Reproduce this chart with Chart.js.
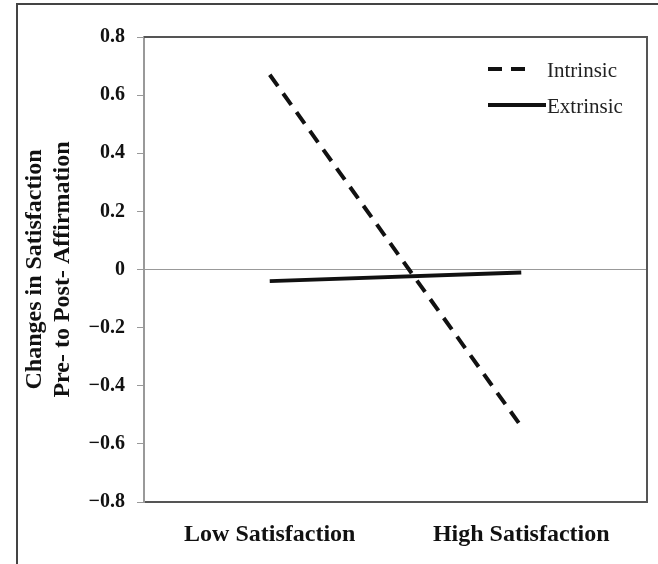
<!DOCTYPE html>
<html>
<head>
<meta charset="utf-8">
<title>Changes in Satisfaction</title>
<script src="https://cdn.jsdelivr.net/npm/chart.js@4.4.1/dist/chart.umd.min.js"></script>
<style>
  body { margin: 0; background: #fff; }
  .wrapper { position: relative; width: 658px; height: 564px; }
  .frame {
    position: absolute; left: 16px; top: 3px; right: 0; bottom: 0;
    border-left: 2px solid #444; border-top: 2px solid #444;
  }
  canvas { position: absolute; left: 0; top: 0; }
</style>
</head>
<body>
<div class="wrapper">
  <div class="frame"></div>
  <canvas id="satChart" width="658" height="564"></canvas>
</div>
<script>
// Kategoriler ve seriler
const categories = ['Low Satisfaction', 'High Satisfaction'];
const intrinsicValues = [0.67, -0.54];
const extrinsicValues = [-0.04, -0.01];
const yTicks = [0.8, 0.6, 0.4, 0.2, 0, -0.2, -0.4, -0.6, -0.8];
const yTitle = ['Changes in Satisfaction', 'Pre- to Post- Affirmation'];

const serif = '"Liberation Serif", "Times New Roman", serif';

// sayıları eksi işaretiyle yaz
function fmtTick(v) {
  if (Math.abs(v) < 1e-9) return '0';
  return (v < 0 ? '\u2212' : '') + Math.abs(v).toFixed(1);
}

// Çerçeve (üst + sağ) ve lejant
const framePlugin = {
  id: 'framePlugin',
  afterDraw(chart, args, opts) {
    const ctx = chart.ctx;
    const a = chart.chartArea;
    ctx.save();
    ctx.strokeStyle = '#555';
    ctx.lineWidth = 2;
    ctx.beginPath();
    ctx.moveTo(a.left, a.top);
    ctx.lineTo(a.right, a.top);
    ctx.lineTo(a.right, a.bottom);
    ctx.stroke();

    // lejant
    chart.data.datasets.forEach((ds, i) => {
      const y = opts.y + i * opts.rowGap;
      ctx.strokeStyle = ds.borderColor;
      ctx.lineWidth = ds.borderWidth;
      ctx.setLineDash(ds.borderDash || []);
      ctx.beginPath();
      ctx.moveTo(opts.x, y);
      ctx.lineTo(opts.x + opts.sampleWidths[i], y);
      ctx.stroke();
      ctx.setLineDash([]);
      ctx.fillStyle = '#222';
      ctx.font = '21px ' + serif;
      ctx.textBaseline = 'middle';
      ctx.textAlign = 'left';
      ctx.fillText(ds.label, opts.textX, y + 2);
    });
    ctx.restore();
  }
};

const ctx = document.getElementById('satChart').getContext('2d');
new Chart(ctx, {
  type: 'line',
  data: {
    labels: categories,
    datasets: [{
      label: 'Intrinsic',
      data: intrinsicValues,
      borderColor: '#111',
      borderWidth: 4,
      borderDash: [14, 9],
      pointRadius: 0,
      tension: 0
    }, {
      label: 'Extrinsic',
      data: extrinsicValues,
      borderColor: '#111',
      borderWidth: 4,
      pointRadius: 0,
      tension: 0
    }]
  },
  options: {
    responsive: false,
    devicePixelRatio: 1,
    animation: false,
    layout: { padding: { top: 37, right: 11, bottom: 0, left: 0 } },
    plugins: {
      legend: { display: false },
      tooltip: { enabled: false },
      framePlugin: { x: 488, y: 69, rowGap: 36, textX: 547, sampleWidths: [42, 58] }
    },
    scales: {
      x: {
        offset: true,
        grid: { display: false, drawTicks: false },
        border: { display: true, color: '#555', width: 2 },
        ticks: {
          color: '#111',
          padding: 18,
          font: { family: serif, size: 24, weight: 'bold' }
        },
        afterFit(scale) { scale.height = 62; }
      },
      y: {
        min: -0.8,
        max: 0.8,
        afterBuildTicks(scale) {
          scale.ticks = yTicks.map(v => ({ value: v }));
        },
        grid: {
          color: c => (c.tick && c.tick.value === 0 ? '#999' : 'rgba(0,0,0,0)'),
          lineWidth: 1,
          tickColor: '#999',
          tickLength: 7,
          drawOnChartArea: true
        },
        border: { display: true, color: '#999', width: 2 },
        ticks: {
          color: '#111',
          padding: 12,
          font: { family: serif, size: 20, weight: 'bold' },
          callback: v => fmtTick(v)
        },
        title: {
          display: true,
          text: yTitle,
          color: '#111',
          padding: { top: 21, bottom: 0 },
          font: { family: serif, size: 24, weight: 'bold', lineHeight: 1.15 }
        },
        afterFit(scale) { scale.width = 144; }
      }
    }
  },
  plugins: [framePlugin]
});
</script>
</body>
</html>
